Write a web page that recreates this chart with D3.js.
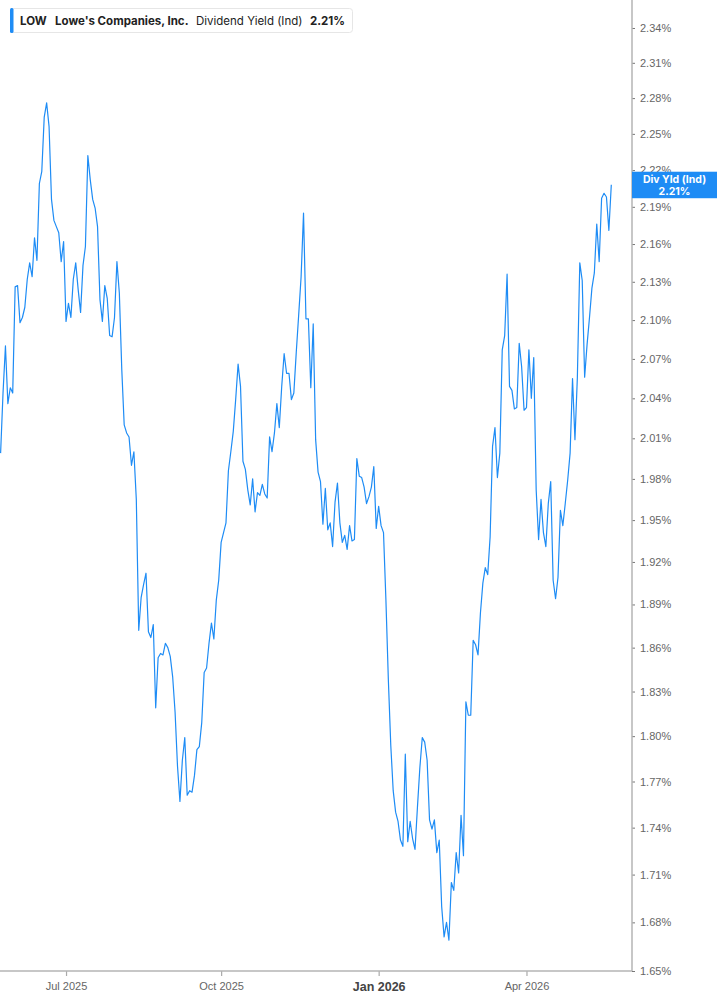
<!DOCTYPE html>
<html>
<head>
<meta charset="utf-8">
<script src="https://cdn.jsdelivr.net/npm/d3@7"></script>
<style>
  html, body { margin: 0; padding: 0; background: #ffffff; }
  svg { display: block; }
</style>
</head>
<body>
<div id="chart"></div>
<script>
// ---- Data (one value per trading day, May 20 2025 -> May 20 2026) ----
const yields = [
  1.999, 2.044, 2.080, 2.036, 2.048, 2.044, 2.126, 2.127, 2.098, 2.102,
  2.110, 2.132, 2.145, 2.134, 2.165, 2.147, 2.209, 2.219, 2.264, 2.276,
  2.256, 2.196, 2.179, 2.174, 2.169, 2.146, 2.162, 2.099, 2.113, 2.102,
  2.132, 2.145, 2.124, 2.106, 2.143, 2.158, 2.232, 2.212, 2.196, 2.189,
  2.174, 2.116, 2.099, 2.127, 2.117, 2.088, 2.087, 2.102, 2.146, 2.121,
  2.062, 2.020, 2.014, 2.011, 1.990, 2.000, 1.965, 1.872, 1.895, 1.904,
  1.912, 1.871, 1.867, 1.876, 1.819, 1.853, 1.856, 1.855, 1.863, 1.860,
  1.854, 1.840, 1.816, 1.780, 1.757, 1.784, 1.799, 1.761, 1.764, 1.763,
  1.774, 1.791, 1.793, 1.809, 1.843, 1.846, 1.863, 1.877, 1.866, 1.893,
  1.907, 1.934, 1.941, 1.948, 1.986, 2.000, 2.015, 2.039, 2.066, 2.049,
  1.993, 1.987, 1.972, 1.961, 1.980, 1.956, 1.970, 1.968, 1.976, 1.969,
  1.966, 2.011, 2.000, 2.014, 2.036, 2.018, 2.049, 2.074, 2.059, 2.059,
  2.039, 2.044, 2.075, 2.104, 2.134, 2.185, 2.101, 2.101, 2.048, 2.097,
  2.009, 1.985, 1.978, 1.947, 1.973, 1.943, 1.948, 1.931, 1.963, 1.977,
  1.948, 1.934, 1.939, 1.929, 1.946, 1.935, 1.936, 1.995, 1.982, 1.981,
  1.974, 1.962, 1.967, 1.974, 1.989, 1.944, 1.960, 1.946, 1.941, 1.893,
  1.838, 1.794, 1.764, 1.750, 1.744, 1.732, 1.728, 1.788, 1.731, 1.744,
  1.733, 1.726, 1.753, 1.779, 1.799, 1.796, 1.784, 1.745, 1.739, 1.745,
  1.724, 1.732, 1.690, 1.671, 1.680, 1.669, 1.705, 1.700, 1.724, 1.711,
  1.748, 1.722, 1.823, 1.814, 1.814, 1.865, 1.862, 1.855, 1.884, 1.905,
  1.916, 1.911, 1.938, 2.004, 2.018, 1.981, 1.999, 2.077, 2.088, 2.136,
  2.049, 2.046, 2.032, 2.033, 2.082, 2.064, 2.031, 2.033, 2.077, 2.040,
  2.071, 1.972, 1.936, 1.965, 1.941, 1.931, 1.962, 1.978, 1.907, 1.894,
  1.909, 1.957, 1.946, 1.962, 1.979, 1.999, 2.055, 2.009, 2.056, 2.145,
  2.131, 2.056, 2.081, 2.102, 2.125, 2.137, 2.176, 2.146, 2.197, 2.201,
  2.198, 2.171, 2.208
];

const yTicks = [1.65, 1.68, 1.71, 1.74, 1.77, 1.80, 1.83, 1.86, 1.89, 1.92, 1.95, 1.98,
                2.01, 2.04, 2.07, 2.10, 2.13, 2.16, 2.19, 2.22, 2.25, 2.28, 2.31, 2.34];

const xTickLabels = ["Jul 2025", "Oct 2025", "Jan 2026", "Apr 2026"];
const xTickIndex  = [27, 91, 156, 217];
const xTickMajor  = [false, false, true, false];

const ticker = "LOW";
const company = "Lowe's Companies, Inc.";
const metric = "Dividend Yield (Ind)";
const lastLabel = "Div Yld (Ind)";
const lastValue = yields[yields.length - 1];

// ---- Layout ----
const W = 717, H = 1005;
const axisX = 632, axisY = 971;
const lineColor = "#1e8cf5";

const svg = d3.select("#chart").append("svg")
  .attr("width", W).attr("height", H)
  .style("font-family", "Inter, 'Noto Sans', Arial, sans-serif");

const x = d3.scaleLinear().domain([0, yields.length - 1]).range([0.6, 611.3]);
const y = d3.scaleLog().domain([1.65, 2.3644]).range([axisY, 0]);

const defs = svg.append("defs");
defs.append("clipPath").attr("id", "clip")
  .append("rect").attr("x", 0).attr("y", 0).attr("width", axisX).attr("height", axisY);

// line
svg.append("path")
  .datum(yields)
  .attr("clip-path", "url(#clip)")
  .attr("fill", "none")
  .attr("stroke", lineColor)
  .attr("stroke-width", 1.2)
  .attr("stroke-linejoin", "round")
  .attr("d", d3.line().x((d, i) => x(i)).y(d => y(d)));

// right axis
const lvY = y(lastValue);
const yAxis = d3.axisRight(y)
  .tickValues(yTicks)
  .tickSize(3)
  .tickPadding(5)
  .tickFormat(d => d.toFixed(2) + "%");
const gy = svg.append("g").attr("transform", `translate(${axisX},0)`).call(yAxis);
gy.select(".domain").remove();
gy.selectAll(".tick line").attr("stroke", "#777").attr("stroke-width", 1);
gy.selectAll(".tick text").attr("fill", "#666").style("font-size", "11px")
  .style("font-family", "'Liberation Sans', Arial, sans-serif");

// tick label partly hidden under the last-value box: clip it to the visible part
gy.selectAll(".tick").filter(d => Math.abs(y(d) - lvY) < 14)
  .select("text")
  .each(function(d) {
    const ty = y(d);
    const id = "clipTick" + String(d).replace(".", "_");
    defs.append("clipPath").attr("id", id)
      .append("rect").attr("x", -10).attr("y", -20).attr("width", 200)
      .attr("height", Math.max(0, 20 + (lvY - 13 - ty)));
    d3.select(this).attr("clip-path", `url(#${id})`);
  });

// bottom axis
const xAxis = d3.axisBottom(x)
  .tickValues(xTickIndex)
  .tickSize(5)
  .tickPadding(6)
  .tickFormat((d, i) => xTickLabels[i]);
const gx = svg.append("g").attr("transform", `translate(0,${axisY})`).call(xAxis);
gx.select(".domain").remove();
gx.selectAll(".tick line").attr("stroke", "#aaa").attr("stroke-width", 1.2);
gx.selectAll(".tick text")
  .attr("fill", (d, i) => xTickMajor[i] ? "#444" : "#666")
  .style("font-size", (d, i) => xTickMajor[i] ? "12.5px" : "11px")
  .style("font-weight", (d, i) => xTickMajor[i] ? "bold" : "normal")
  .style("font-family", "'Liberation Sans', Arial, sans-serif");

// axis lines
svg.append("line").attr("x1", 0).attr("x2", axisX).attr("y1", axisY).attr("y2", axisY)
  .attr("stroke", "#b5b5b5").attr("stroke-width", 1.5);
svg.append("line").attr("x1", axisX).attr("x2", axisX).attr("y1", 0).attr("y2", axisY)
  .attr("stroke", "#b5b5b5").attr("stroke-width", 1.5);

// last value label
svg.append("rect").attr("x", axisX).attr("y", lvY - 13).attr("width", W - axisX).attr("height", 26.5)
  .attr("fill", lineColor);
svg.append("text").attr("x", 674.5).attr("y", lvY - 2)
  .attr("text-anchor", "middle").attr("fill", "#fff")
  .style("font-size", "10.5px").style("font-weight", "bold")
  .text(lastLabel);
svg.append("text").attr("x", 674.5).attr("y", lvY + 10)
  .attr("text-anchor", "middle").attr("fill", "#fff")
  .style("font-size", "10.5px").style("font-weight", "bold")
  .text(lastValue.toFixed(2) + "%");

// legend box
const lg = svg.append("g");
lg.append("rect").attr("x", 10.5).attr("y", 8.5).attr("width", 342).attr("height", 24)
  .attr("rx", 3).attr("fill", "#fff").attr("stroke", "#e6e6e6");
lg.append("rect").attr("x", 10).attr("y", 8).attr("width", 3.5).attr("height", 25)
  .attr("rx", 1.5).attr("fill", lineColor);
lg.append("text").attr("x", 20).attr("y", 25).attr("fill", "#222")
  .style("font-size", "11.5px").style("font-weight", "bold").text(ticker);
lg.append("text").attr("x", 55).attr("y", 25).attr("fill", "#222")
  .style("font-size", "11.5px").style("font-weight", "bold").text(company);
lg.append("text").attr("x", 196).attr("y", 25).attr("fill", "#222")
  .style("font-size", "11.5px").text(metric);
lg.append("text").attr("x", 310).attr("y", 25).attr("fill", "#222")
  .style("font-size", "11.5px").style("font-weight", "bold").text(lastValue.toFixed(2) + "%");
</script>
</body>
</html>
